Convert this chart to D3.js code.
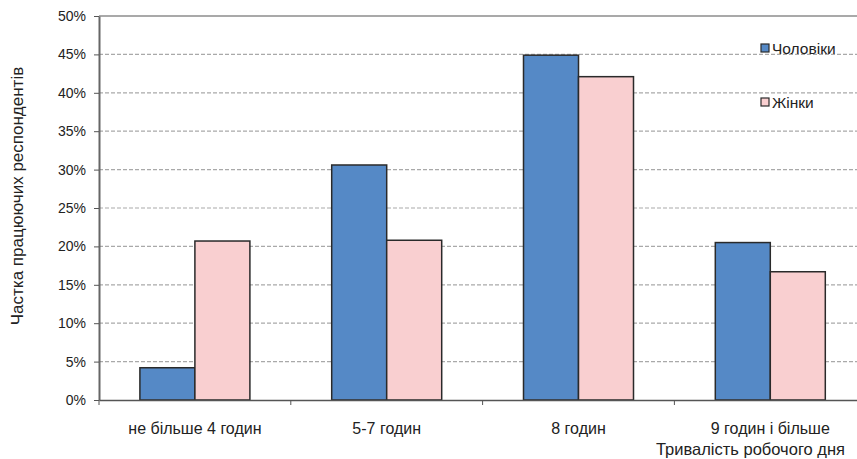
<!DOCTYPE html>
<html>
<head>
<meta charset="utf-8">
<script src="https://cdn.jsdelivr.net/npm/d3@7"></script>
<style>
  body { margin: 0; background: #fff; }
  svg { display: block; font-family: "Liberation Sans", Arial, sans-serif; }
</style>
</head>
<body>
<div id="chart"></div>
<script>
var categories = ["не більше 4 годин", "5-7 годин", "8 годин", "9 годин і більше"]
var seriesNames = ["Чоловіки", "Жінки"]
var men = [4.2, 30.6, 44.9, 20.5]
var women = [20.7, 20.8, 42.1, 16.7]
var yTicks = [0, 5, 10, 15, 20, 25, 30, 35, 40, 45, 50]

var colors = { "Чоловіки": "#5589c6", "Жінки": "#f9cfd0" }

var width = 857, height = 459
var marginLeft = 99, plotTop = 16, plotBottom = 400
var band = 191.8

var svg = d3.select("#chart").append("svg")
    .attr("width", width)
    .attr("height", height)

var x0 = d3.scaleBand()
    .domain(categories)
    .range([marginLeft, marginLeft + band * 4])
    .padding(0)

var x1 = d3.scaleBand()
    .domain(seriesNames)
    .range([0, 110])

var y = d3.scaleLinear()
    .domain([0, 50])
    .range([plotBottom, plotTop])

/* grid */
svg.append("g").selectAll("line")
    .data(yTicks.filter(t => t > 0))
    .enter().append("line")
    .attr("x1", marginLeft)
    .attr("x2", width)
    .attr("y1", d => y(d))
    .attr("y2", d => y(d))
    .style("stroke", "#a9a9a9")
    .style("stroke-width", d => d == 50 ? 2 : 1.2)
    .style("stroke-dasharray", d => d == 50 ? null : "4,2")

/* bars */
var data = categories.map((c, i) => ({ cat: c, values: [
    { name: seriesNames[0], value: men[i] },
    { name: seriesNames[1], value: women[i] }
]}))

svg.append("g").selectAll("g")
    .data(data).enter()
    .append("g")
    .attr("transform", d => `translate(${x0(d.cat) + x0.bandwidth() / 2 - 55},0)`)
    .selectAll("rect")
    .data(d => d.values).enter()
    .append("rect")
    .attr("x", d => x1(d.name))
    .attr("y", d => y(d.value))
    .attr("width", x1.bandwidth())
    .attr("height", d => plotBottom - y(d.value))
    .style("fill", d => colors[d.name])
    .style("stroke", "#2a2a2a")
    .style("stroke-width", 1.5)

/* axes */
var yAxis = d3.axisLeft(y).tickValues(yTicks).tickFormat(d => d + "%").tickSize(5).tickSizeOuter(0)
var yg = svg.append("g")
    .attr("transform", `translate(${marginLeft},0)`)
    .call(yAxis)
yg.select(".domain").style("stroke", "#666").style("stroke-width", 2)
yg.selectAll(".tick line").style("stroke", "#555").style("stroke-width", 1)
yg.selectAll("text")
    .attr("x", -13)
    .style("font-size", "14px")
    .style("fill", "#222")

var xAxis = d3.axisBottom(x0).tickSize(0).tickSizeOuter(0)
var xg = svg.append("g")
    .attr("transform", `translate(0,${plotBottom})`)
    .call(xAxis)
xg.select(".domain").style("stroke", "#555").style("stroke-width", 1.5)
xg.selectAll("text")
    .attr("y", 23)
    .style("font-size", "16px")
    .style("fill", "#222")

/* category boundary ticks */
xg.append("g").selectAll("line")
    .data(categories)
    .enter().append("line")
    .attr("x1", d => x0(d))
    .attr("x2", d => x0(d))
    .attr("y1", 0)
    .attr("y2", 5)
    .style("stroke", "#555")

/* titles */
svg.append("text")
    .attr("transform", "translate(23,196) rotate(-90)")
    .attr("text-anchor", "middle")
    .style("font-size", "17px")
    .style("fill", "#222")
    .text("Частка працюючих респондентів")

svg.append("text")
    .attr("x", 845)
    .attr("y", 455)
    .attr("text-anchor", "end")
    .style("font-size", "16.5px")
    .style("fill", "#222")
    .text("Тривалість робочого дня")

/* legend */
var legend = svg.append("g").selectAll("g")
    .data(seriesNames).enter()
    .append("g")
    .attr("transform", (d, i) => `translate(761,${44 + i * 54})`)
legend.append("rect")
    .attr("width", 8)
    .attr("height", 8)
    .style("fill", d => colors[d])
    .style("stroke", "#2a2a2a")
    .style("stroke-width", 1.2)
legend.append("text")
    .attr("x", 11)
    .attr("y", 10)
    .style("font-size", "15.5px")
    .style("fill", "#222")
    .text(d => d)
</script>
</body>
</html>
